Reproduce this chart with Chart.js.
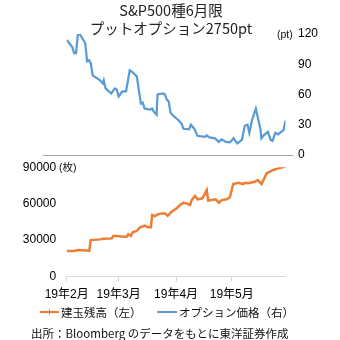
<!DOCTYPE html>
<html>
<head>
<meta charset="utf-8">
<script src="https://cdn.jsdelivr.net/npm/chart.js@4"></script>
<style>
    body { margin: 0; background: #fff; }
    .wrap { position: relative; width: 340px; height: 340px; overflow: hidden;
        font-family: "Noto Sans CJK JP", "Liberation Sans", sans-serif; color: #111; }
    .wrap canvas { position: absolute; left: 0; top: 0; }
    .txt { position: absolute; white-space: nowrap; line-height: 16px; }
    .title { left: 0; width: 342px; text-align: center; font-size: 14.5px; font-weight: normal; color: #222; }
    .unit { font-size: 10.5px; font-family: "Liberation Sans", "Noto Sans CJK JP", sans-serif; }
    .legend { font-size: 11.5px; }
    .swatch { position: absolute; height: 2px; }
</style>
</head>
<body>
<div class="wrap">
    <canvas id="oiChart" width="340" height="340"></canvas>
    <canvas id="priceChart" width="340" height="340"></canvas>

    <div class="txt title" style="top: 2px;">S&amp;P500種6月限</div>
    <div class="txt title" style="top: 20px;">プットオプション2750pt</div>
    <div class="txt unit" style="left: 277px; top: 26px;">(pt)</div>
    <div class="txt unit" style="left: 59px; top: 159px;">(枚)</div>

    <div class="swatch" style="left: 40px; top: 311px; width: 19px; background: #ed7d31;"></div>
    <div class="swatch" style="left: 49px; top: 309px; width: 1px; height: 6px; background: #ed7d31;"></div>
    <div class="txt legend" style="left: 61px; top: 304px;">建玉残高（左）</div>
    <div class="swatch" style="left: 157px; top: 311px; width: 20px; background: #5b9bd5;"></div>
    <div class="txt legend" style="left: 179px; top: 304px;">オプション価格（右）</div>

    <div class="txt legend" style="left: 31px; top: 325px;">出所：Bloomberg のデータをもとに東洋証券作成</div>
</div>

<script>
// days counted from 2019-02-01
const monthTicks = [0, 28, 59, 89];
const monthLabels = ["19年2月", "19年3月", "19年4月", "19年5月"];
const dayMax = 118;

// option price (pt), right axis
const priceDays = [0, 3, 4, 5, 6, 7, 10, 11, 12, 13, 14, 18, 19.5, 20, 21, 24, 26, 27, 28, 30, 32, 34, 35,
    37.8, 40, 41, 42, 45, 46, 47, 48.5, 49, 52, 53, 54, 55, 56, 58, 60, 62, 63, 66, 67, 69, 70.5,
    74.5, 75.5, 77, 80, 82, 83.5, 86, 88, 90, 92, 94.5, 96, 97.5, 98.5, 100, 102, 104.5, 105,
    106.5, 108.5, 110, 111, 112.5, 114, 117, 118];
const priceValues = [114, 107, 101, 101, 119, 120, 111, 93, 94, 91, 79, 74, 71, 74, 66, 61, 66, 65, 58, 63, 63, 84, 83,
    78, 51, 52, 46, 45, 46, 43, 40, 60, 61, 60, 55, 53, 42, 38, 35, 31, 26, 25.5, 30, 25.5, 19,
    18, 19.5, 17.5, 16.5, 13, 15.5, 13, 12.5, 16.5, 11.5, 15, 29, 30, 22, 35, 46, 25.5, 16.5,
    20, 23, 15, 14, 22, 20.5, 25, 34];

// open interest (contracts), left axis
const oiDays = [0, 3.6, 6.3, 12.2, 12.9, 18, 19.7, 24.3, 25.1, 27.8, 30.5, 32.3, 33.2, 34.5, 35.6, 37.7,
    39.5, 42.1, 44, 45.4, 46.1, 47.6, 49.1, 51.2, 53, 54.5, 56.6, 59.3, 61.1, 62.9, 64.7, 66.5,
    67.4, 69.2, 70.6, 73.1, 74.2, 75.5, 76.3, 78.2, 80.3, 82.1, 83.6, 86.3, 88, 89.8, 92.5, 95.2,
    96.1, 97.9, 101.5, 103, 105.1, 107.8, 111.4, 114.1, 118];
const oiValues = [21000, 21000, 21800, 21300, 30000, 30600, 31100, 31400, 33400, 33400, 32800, 32800, 34800, 33400, 36400, 37500,
    40500, 42000, 40500, 40500, 50700, 49800, 51200, 52000, 52000, 50100, 53400, 56200, 58900, 60800, 60300, 58900,
    63000, 66300, 63600, 64400, 67200, 71300, 62500, 63000, 63600, 60800, 63000, 63600, 65300, 76200, 77300, 76200,
    77300, 76800, 78100, 79500, 76200, 85000, 87800, 89100, 90600];

const tickFont = { family: "'Liberation Sans', 'Noto Sans CJK JP', sans-serif", size: 12 };
const toPoints = (xs, ys) => xs.map((x, i) => ({ x: x, y: ys[i] }));

// gray base line under the price panel
const baseLine = {
    id: "baseLine",
    afterDraw: (chart) => {
        const ctx = chart.ctx;
        const y = Math.round(chart.scales.y.getPixelForValue(0)) + 0.5;
        ctx.save();
        ctx.strokeStyle = "#a6a6a6";
        ctx.lineWidth = 1;
        ctx.beginPath();
        ctx.moveTo(chart.chartArea.left - 24, y);
        ctx.lineTo(chart.chartArea.right + 8, y);
        ctx.stroke();
        ctx.restore();
    },
};

new Chart(document.getElementById("priceChart"), {
    type: "line",
    data: {
        datasets: [{
            label: "オプション価格（右）",
            data: toPoints(priceDays, priceValues),
            borderColor: "#5b9bd5",
            borderWidth: 2.25,
            pointRadius: 0,
            tension: 0,
        }],
    },
    options: {
        responsive: false,
        animation: false,
        layout: { padding: { left: 66.7, top: 34, bottom: 185, right: 0 } },
        plugins: { legend: { display: false }, tooltip: { enabled: false } },
        scales: {
            x: { type: "linear", min: 0, max: dayMax, display: false },
            y: {
                position: "right",
                min: 0,
                max: 120,
                ticks: { stepSize: 30, color: "#000", font: tickFont, padding: 12.5 },
                grid: { display: false, drawTicks: false },
                border: { display: false },
                afterFit: (scale) => { scale.width = 54.5; },
            },
        },
    },
    plugins: [baseLine],
});

new Chart(document.getElementById("oiChart"), {
    type: "line",
    data: {
        datasets: [{
            label: "建玉残高（左）",
            data: toPoints(oiDays, oiValues),
            borderColor: "#ed7d31",
            borderWidth: 2.5,
            pointRadius: 0,
            tension: 0,
        }],
    },
    options: {
        responsive: false,
        animation: false,
        layout: { padding: { left: 0, top: 167.3, bottom: 38.5, right: 54.5 } },
        plugins: { legend: { display: false }, tooltip: { enabled: false } },
        scales: {
            x: {
                type: "linear",
                min: 0,
                max: dayMax,
                afterBuildTicks: (scale) => {
                    scale.ticks = monthTicks.map((v) => ({ value: v }));
                },
                ticks: {
                    color: "#000",
                    font: tickFont,
                    padding: 6,
                    maxRotation: 0,
                    autoSkip: false,
                    callback: (val) => monthLabels[monthTicks.indexOf(val)],
                },
                grid: { drawOnChartArea: false, drawTicks: true, tickLength: 5, color: "#d9d9d9" },
                border: { display: true, color: "#d9d9d9" },
                afterFit: (scale) => { scale.height = 25; },
            },
            y: {
                position: "left",
                min: 0,
                max: 90000,
                ticks: {
                    stepSize: 30000,
                    color: "#000",
                    font: tickFont,
                    padding: 10.5,
                    callback: (val) => String(val),
                },
                grid: { display: false, drawTicks: false },
                border: { display: false },
                afterFit: (scale) => { scale.width = 66.7; },
            },
        },
    },
});
</script>
</body>
</html>
